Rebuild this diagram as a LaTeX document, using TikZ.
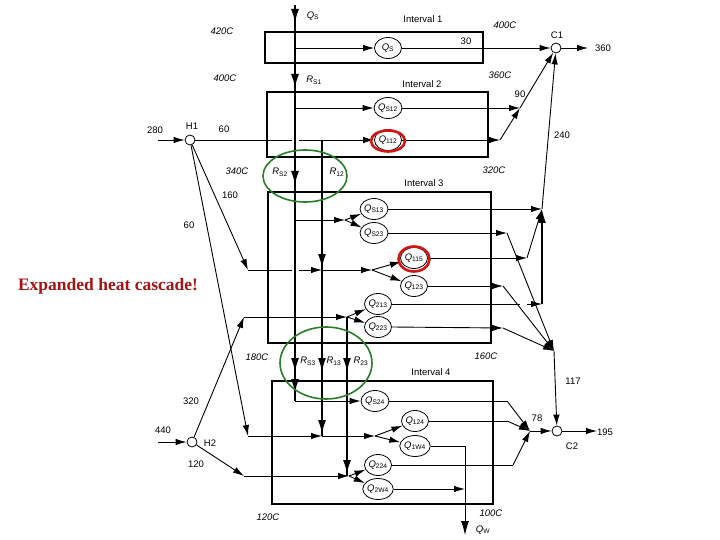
\documentclass[tikz,border=0pt]{standalone}
\usepackage{fontspec}
\setmainfont{Liberation Sans}
\newfontfamily\headfont{Liberation Serif}
\usetikzlibrary{arrows.meta,shapes.geometric}
\newcommand\Qsub[1]{\textit{Q}\textsubscript{#1}}
\newcommand\Rsub[1]{\textit{R}\textsubscript{#1}}
\definecolor{hred}{RGB}{165,20,20}
\definecolor{ringred}{RGB}{215,20,20}
\definecolor{ringgreen}{RGB}{40,125,40}
\begin{document}
\begin{tikzpicture}[x=1pt,y=-1pt,
  box/.style={line width=2.3pt},
  flow/.style={line width=0.9pt},
  main/.style={line width=1.9pt},
  arr/.style={-{Latex[length=11pt,width=6.5pt]}},
  marr/.style={-{Latex[length=14pt,width=8pt]}},
  qn/.style={ellipse,draw,line width=0.8pt,minimum width=27pt,minimum height=21pt,inner sep=0pt,font=\fontsize{9.5}{10}\selectfont},
  jn/.style={circle,draw,line width=0.8pt,minimum size=10pt,inner sep=0pt,fill=white},
  lbl/.style={font=\fontsize{9.5}{10}\selectfont},
  tmp/.style={font=\fontsize{9.5}{10}\selectfont\itshape},
  ring/.style={line width=2.6pt,ringred},
  gring/.style={line width=1.6pt,ringgreen}
]
\useasboundingbox (0,0) rectangle (720,540);

% interval boxes
\draw[box] (265,32) rectangle (483,63);
\draw[box] (267,92) rectangle (488,157);
\draw[box] (268,192) rectangle (491,343);
\draw[box] (272,381) rectangle (493,504);

% heat nodes
\node[qn] (qs) at (388,48) {\Qsub{S}};
\node[qn] (qs12) at (388,108) {\Qsub{S12}};
\node[qn] (q112) at (388,140) {\Qsub{112}};
\node[qn] (qs13) at (374,209) {\Qsub{S13}};
\node[qn] (qs23) at (374,233) {\Qsub{S23}};
\node[qn] (q115) at (414,258) {\Qsub{115}};
\node[qn] (q123) at (414,286) {\Qsub{123}};
\node[qn] (q213) at (378,304) {\Qsub{213}};
\node[qn] (q223) at (378,327) {\Qsub{223}};
\node[qn] (qs24) at (375,401) {\Qsub{S24}};
\node[qn] (q124) at (415,421) {\Qsub{124}};
\node[qn] (q1w4) at (415,446) {\Qsub{1W4}};
\node[qn] (q224) at (378,465) {\Qsub{224}};
\node[qn] (q2w4) at (378,489) {\Qsub{2W4}};

% junctions
\node[jn] (c1) at (556,48) {};
\node[jn] (c2) at (557,431) {};
\node[jn] (h1) at (190,140) {};
\node[jn] (h2) at (192,442) {};

% coordinates
\coordinate (s0) at (295,6);
\coordinate (sb) at (295,401);
\coordinate (j2) at (520,108);
\coordinate (k112) at (500,140);
\coordinate (b3a) at (345,220);
\coordinate (k1) at (248,270);
\coordinate (j270) at (322,270);
\coordinate (b3b) at (372,270);
\coordinate (k2) at (244,317);
\coordinate (b3c) at (347,317);
\coordinate (k3) at (248,436);
\coordinate (j436) at (322,436);
\coordinate (b4a) at (375,436);
\coordinate (k4) at (244,476);
\coordinate (b4b) at (349,476);
\coordinate (j3a) at (542,209);
\coordinate (k23) at (507,233);
\coordinate (j3c) at (554,351);
\coordinate (k115) at (527,258);
\coordinate (k123) at (503,286);
\coordinate (k213) at (542,304);
\coordinate (k223) at (503,328);
\coordinate (k24) at (507,401);
\coordinate (k124) at (507,421);
\coordinate (k224) at (513,465);
\coordinate (j4) at (530,431);
\coordinate (kw) at (465,446);
\coordinate (qw) at (465,535);
\coordinate (in280) at (158,140);
\coordinate (in440) at (158,442);
\coordinate (out360) at (588,48);
\coordinate (out195) at (597,431);

% main vertical cascades
\draw[main] (s0) -- (sb);
\foreach \yy in {23,88,185,372,393} \draw[main,marr] (295,\yy-18) -- (295,\yy);
\draw[main] (322,140) -- (j436);
\foreach \yy in {268,372,434} \draw[main,marr] (322,\yy-18) -- (322,\yy);
\draw[main] (b3c) -- (347,476);
\foreach \yy in {372,474} \draw[main,marr] (347,\yy-18) -- (347,\yy);

% interval 1
\draw[flow,arr] (295,48) -- (qs.west);
\draw[flow,arr] (qs.east) -- (c1.west);
\draw[flow,arr] (c1.east) -- (out360);

% interval 2
\draw[flow,arr] (295,108) -- (qs12.west);
\draw[flow,arr] (qs12.east) -- (j2);
\draw[flow,arr] (q112.east) -- (k112);
\draw[flow,arr] (k112) -- (j2);
\draw[flow,arr] (j2) -- (c1);
\draw[flow,arr] (in280) -- (h1.west);
\draw[flow] (h1.east) -- (292,140);
\draw[flow,arr] (299,140) -- (q112.west);

% interval 3 (left)
\draw[flow,arr] (295,220) -- (b3a);
\draw[flow,arr] (b3a) -- (qs13);
\draw[flow,arr] (b3a) -- (qs23);
\draw[flow,arr] (h1) -- (k1);
\draw[flow] (k1) -- (292,270);
\draw[flow,arr] (299,270) -- (j270);
\draw[flow,arr] (j270) -- (b3b);
\draw[flow,arr] (b3b) -- (q115);
\draw[flow,arr] (b3b) -- (q123);
\draw[flow,arr] (h2) -- (k2);
\draw[flow,arr] (k2) -- (b3c);
\draw[flow,arr] (b3c) -- (q213);
\draw[flow,arr] (b3c) -- (q223);

% interval 4 (left)
\draw[flow,arr] (h1) -- (k3);
\draw[flow,arr] (k3) -- (j436);
\draw[flow,arr] (j436) -- (b4a);
\draw[flow,arr] (b4a) -- (q124);
\draw[flow,arr] (b4a) -- (q1w4);
\draw[flow,arr] (295,401) -- (qs24.west);
\draw[flow,arr] (in440) -- (h2.west);
\draw[flow,arr] (h2) -- (k4);
\draw[flow,arr] (k4) -- (b4b);
\draw[flow,arr] (b4b) -- (q224);
\draw[flow,arr] (b4b) -- (q2w4);

% interval 3 (right)
\draw[flow,arr] (qs13.east) -- (j3a);
\draw[flow,arr] (j3a) -- (c1);
\draw[flow,arr] (qs23.east) -- (k23);
\draw[flow,arr] (k23) -- (j3c);
\draw[flow,arr] (q115.east) -- (k115);
\draw[flow,arr] (k115) -- (j3a);
\draw[flow,arr] (q123.east) -- (k123);
\draw[flow,arr] (k123) -- (j3c);
\draw[flow] (q213.east) -- (520,304);
\draw[flow,arr] (527,304) -- (k213);
\draw[main,marr] (k213) -- (j3a);
\draw[flow,arr] (q223.east) -- (k223);
\draw[flow,arr] (k223) -- (j3c);
\draw[flow,arr] (j3c) -- (c2);

% interval 4 (right)
\draw[flow] (qs24.east) -- (k24);
\draw[flow,arr] (k24) -- (j4);
\draw[flow] (q124.east) -- (k124);
\draw[flow,arr] (k124) -- (j4);
\draw[flow] (q224.east) -- (k224);
\draw[flow,arr] (k224) -- (j4);
\draw[flow,arr] (j4) -- (c2);
\draw[flow,arr] (c2) -- (out195);
\draw[flow] (q1w4.east) -- (kw);
\draw[flow,marr] (kw) -- (qw);
\draw[flow,arr] (q2w4.east) -- (q2w4.east -| kw);

% labels
\node[lbl] at (313,16) {\Qsub{S}};
\node[lbl] at (314,80) {\Rsub{S1}};
\node[lbl] at (280,172) {\Rsub{S2}};
\node[lbl] at (337,172) {\Rsub{12}};
\node[lbl] at (308,361) {\Rsub{S3}};
\node[lbl] at (334,361) {\Rsub{13}};
\node[lbl] at (361,361) {\Rsub{23}};
\node[lbl] at (483,530) {\Qsub{W}};

\node[lbl] at (557,35) {C1};
\node[lbl] at (572,446) {C2};
\node[lbl] at (192,126) {H1};
\node[lbl] at (210,443) {H2};

\node[lbl] at (466,41) {30};
\node[lbl] at (603,48) {360};
\node[lbl] at (520,94) {90};
\node[lbl] at (562,135) {240};
\node[lbl] at (155,130) {280};
\node[lbl] at (224,129) {60};
\node[lbl] at (230,195) {160};
\node[lbl] at (189,225) {60};
\node[lbl] at (191,401) {320};
\node[lbl] at (163,430) {440};
\node[lbl] at (196,464) {120};
\node[lbl] at (573,381) {117};
\node[lbl] at (537,418) {78};
\node[lbl] at (605,432) {195};

\node[lbl] at (423,19) {Interval 1};
\node[lbl] at (422,84) {Interval 2};
\node[lbl] at (424,183) {Interval 3};
\node[lbl] at (431,372) {Interval 4};

\node[tmp] at (222,31) {420C};
\node[tmp] at (225,78) {400C};
\node[tmp] at (505,25) {400C};
\node[tmp] at (500,75) {360C};
\node[tmp] at (237,171) {340C};
\node[tmp] at (494,170) {320C};
\node[tmp] at (257,357) {180C};
\node[tmp] at (486,356) {160C};
\node[tmp] at (268,517) {120C};
\node[tmp] at (491,513) {100C};

% highlight rings
\draw[gring] (305,176) ellipse [x radius=42pt, y radius=26pt];
\draw[gring] (326,363) ellipse [x radius=46pt, y radius=36pt];
\draw[ring] (388,141) ellipse [x radius=17pt, y radius=10.5pt];
\draw[ring] (414,259) ellipse [x radius=15.5pt, y radius=12.5pt];

\node[font=\headfont\bfseries\fontsize{17.5}{20}\selectfont, text=hred] at (108,286) {Expanded heat cascade!};
\end{tikzpicture}
\end{document}
